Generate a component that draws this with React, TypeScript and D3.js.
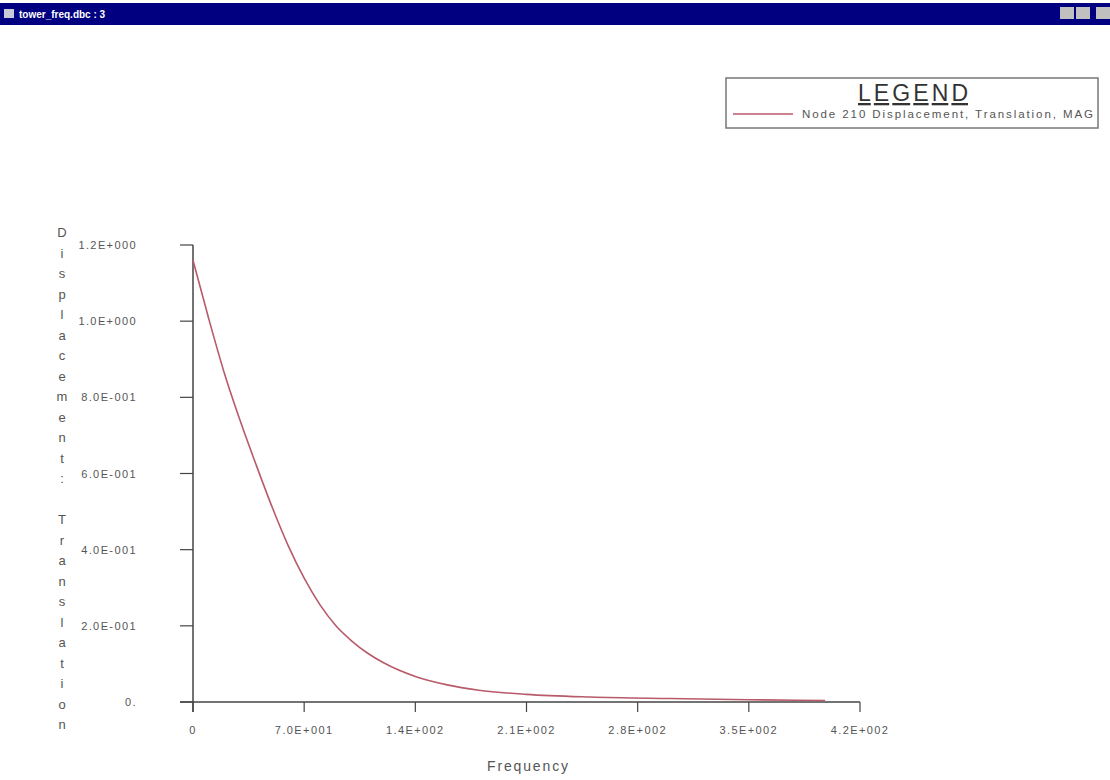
import * as d3 from "d3";
import { useEffect, useRef } from "react";

// frequency samples (Hz) and displacement magnitude
const freqs = [0, 10, 20, 30, 40, 50, 60, 70, 80, 90, 100, 110, 120, 140, 160, 180, 210, 250, 300, 350, 398];
const disp = [1.16, 1.005, 0.86, 0.735, 0.62, 0.51, 0.41, 0.325, 0.255, 0.2, 0.16, 0.128, 0.103, 0.067, 0.045, 0.031, 0.02, 0.013, 0.009, 0.006, 0.004];

const xTicks = [0, 70, 140, 210, 280, 350, 420];
const xTickLabels = ["0", "7.0E+001", "1.4E+002", "2.1E+002", "2.8E+002", "3.5E+002", "4.2E+002"];
const yTicks = [0, 0.2, 0.4, 0.6, 0.8, 1.0, 1.2];
const yTickLabels = ["0.", "2.0E-001", "4.0E-001", "6.0E-001", "8.0E-001", "1.0E+000", "1.2E+000"];

const yTitle = "Displacement: Translation";
const xTitle = "Frequency";
const seriesName = "Node 210 Displacement, Translation, MAG";
const windowTitle = "tower_freq.dbc : 3";

const W = 1110;
const H = 780;
const FONT = "Arial, 'Liberation Sans', sans-serif";
const AXIS = "#444";
const TEXT = "#555";
const LINE = "#b85a6a";

export default function App() {
  const ref = useRef<SVGSVGElement | null>(null);

  useEffect(() => {
    if (!ref.current) return;
    const svg = d3.select(ref.current);
    svg.selectAll("*").remove();

    svg.append("rect").attr("width", W).attr("height", H).attr("fill", "#fff");

    // window title bar
    svg.append("rect").attr("x", 0).attr("y", 3).attr("width", W).attr("height", 22).attr("fill", "#000080");
    svg.append("rect").attr("x", 4).attr("y", 9).attr("width", 10).attr("height", 9).attr("fill", "#c8c8d8");
    svg.append("text")
      .attr("x", 19).attr("y", 18)
      .attr("fill", "#fff").attr("font-family", FONT).attr("font-size", 10).attr("font-weight", "bold")
      .text(windowTitle);
    [1060, 1076, 1096].forEach((bx) => {
      svg.append("rect").attr("x", bx).attr("y", 7).attr("width", 14).attr("height", 12).attr("fill", "#c0c0c0");
    });

    const x = d3.scaleLinear().domain([0, 420]).range([193, 860]);
    const y = d3.scaleLinear().domain([0, 1.2]).range([702, 245]);

    // axes
    svg.append("line").attr("x1", 180).attr("x2", x(420)).attr("y1", y(0)).attr("y2", y(0))
      .attr("stroke", AXIS).attr("stroke-width", 1.5);
    svg.append("line").attr("x1", x(0)).attr("x2", x(0)).attr("y1", y(1.2)).attr("y2", y(0) + 10)
      .attr("stroke", AXIS).attr("stroke-width", 1.5);

    xTicks.forEach((t, i) => {
      svg.append("line").attr("x1", x(t)).attr("x2", x(t)).attr("y1", y(0)).attr("y2", y(0) + 10)
        .attr("stroke", AXIS).attr("stroke-width", 1.2);
      svg.append("text").attr("x", x(t)).attr("y", 734)
        .attr("text-anchor", "middle").attr("fill", TEXT)
        .attr("font-family", FONT).attr("font-size", 11).attr("letter-spacing", 1.4)
        .text(xTickLabels[i]);
    });

    yTicks.forEach((t, i) => {
      svg.append("line").attr("x1", 180).attr("x2", x(0)).attr("y1", y(t)).attr("y2", y(t))
        .attr("stroke", AXIS).attr("stroke-width", 1.2);
      svg.append("text").attr("x", 137).attr("y", y(t) + 4)
        .attr("text-anchor", "end").attr("fill", TEXT)
        .attr("font-family", FONT).attr("font-size", 11).attr("letter-spacing", 1.4)
        .text(yTickLabels[i]);
    });

    // vertical stacked axis title
    yTitle.split("").forEach((ch, i) => {
      svg.append("text").attr("x", 62).attr("y", 237 + i * 20.5)
        .attr("text-anchor", "middle").attr("fill", TEXT)
        .attr("font-family", FONT).attr("font-size", 13)
        .text(ch);
    });

    svg.append("text").attr("x", 487).attr("y", 771)
      .attr("fill", TEXT).attr("font-family", FONT).attr("font-size", 14)
      .attr("textLength", 81).attr("lengthAdjust", "spacing")
      .text(xTitle);

    // curve
    const pts = freqs.map((f, i) => [f, disp[i]] as [number, number]);
    const line = d3.line<[number, number]>()
      .x((d) => x(d[0]))
      .y((d) => y(d[1]))
      .curve(d3.curveMonotoneX);
    svg.append("path").datum(pts).attr("d", line)
      .attr("fill", "none").attr("stroke", LINE).attr("stroke-width", 1.6);

    // legend
    const lg = svg.append("g");
    lg.append("rect").attr("x", 726).attr("y", 78).attr("width", 372).attr("height", 50)
      .attr("fill", "#fff").attr("stroke", "#777").attr("stroke-width", 1.5);
    lg.append("text").attr("x", 858).attr("y", 101)
      .attr("fill", "#333").attr("font-family", FONT).attr("font-size", 23)
      .attr("textLength", 110).attr("lengthAdjust", "spacing")
      .attr("text-decoration", "underline")
      .text("LEGEND");
    lg.append("line").attr("x1", 733).attr("x2", 793).attr("y1", 114).attr("y2", 114)
      .attr("stroke", LINE).attr("stroke-width", 1.4);
    lg.append("text").attr("x", 802).attr("y", 118)
      .attr("fill", TEXT).attr("font-family", FONT).attr("font-size", 11.5)
      .attr("textLength", 291).attr("lengthAdjust", "spacing")
      .text(seriesName);
  }, []);

  return (
    <svg
      ref={ref}
      width={W}
      height={H}
      style={{ position: "absolute", left: 0, top: 0 }}
    />
  );
}
